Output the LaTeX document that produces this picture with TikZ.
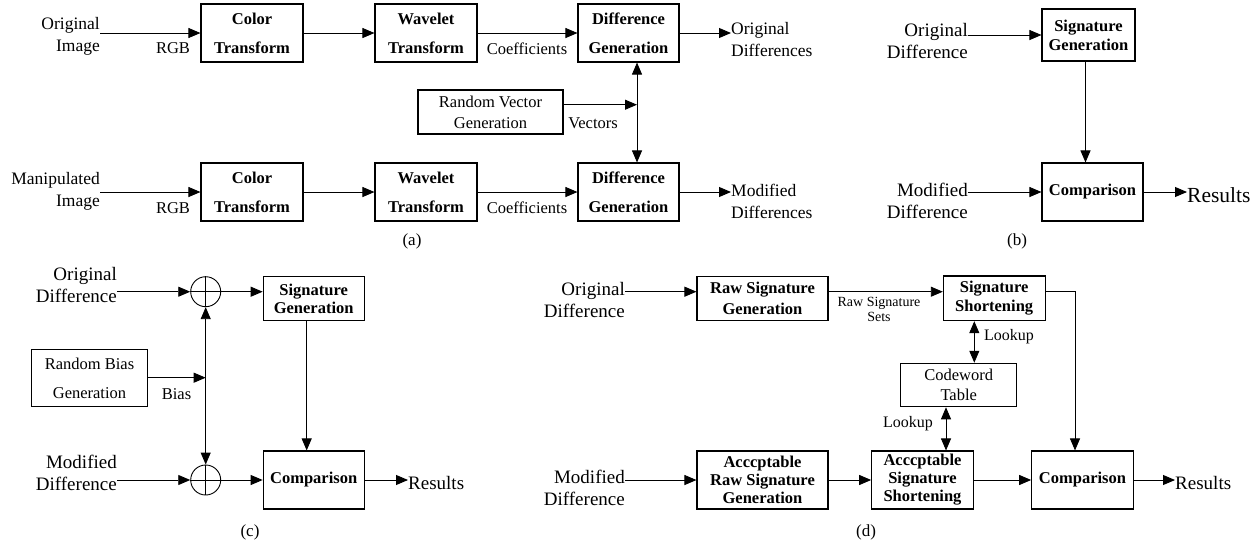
\documentclass[tikz,border=0pt]{standalone}
\usepackage{fontspec}
\setmainfont{Liberation Serif}
\usetikzlibrary{arrows.meta,calc}
\begin{document}
\begin{tikzpicture}[x=1pt,y=-1pt,
  mytip/.tip={Triangle[length=12pt,width=10pt]},
  arr/.style={line width=0.9pt,-mytip},
  arrb/.style={line width=0.9pt,mytip-mytip},
  wh/.style 2 args={minimum width=#1 pt,minimum height=#2 pt},
  boxb/.style={draw,line width=1.1pt,inner sep=0pt,align=center,font=\fontsize{16.5}{#1}\selectfont\bfseries},
  boxb/.default=20,
  boxr/.style={draw,line width=1.1pt,inner sep=0pt,align=center,font=\fontsize{16.5}{#1}\selectfont},
  boxr/.default=20,
  lblA/.style={inner sep=0pt,font=\fontsize{17.5}{22}\selectfont},
  lblB/.style={inner sep=0pt,font=\fontsize{19}{22}\selectfont},
  lblS/.style={inner sep=0pt,font=\fontsize{16.5}{20}\selectfont},
  lblL/.style={inner sep=0pt,font=\fontsize{16}{20}\selectfont},
  lblT/.style={inner sep=0pt,font=\fontsize{14}{15}\selectfont},
  lblR/.style={inner sep=0pt,font=\fontsize{21.5}{24}\selectfont},
  captxt/.style={inner sep=0pt,font=\fontsize{17}{20}\selectfont},
  sum/.style={draw,circle,line width=0.9pt,minimum size=30pt,inner sep=0pt}
]
\useasboundingbox[fill=white] (0,0) rectangle (1260,547);

% ---------------- (a) ----------------
\node[lblA,anchor=east,align=right] (oi) at (100,36) {Original\\Image};
\node[boxb=29,wh={102}{58}] (ct1) at (252,33) {Color\\Transform};
\node[boxb=29,wh={102}{58}] (wt1) at (426,33) {Wavelet\\Transform};
\node[boxb=29,wh={101}{58}] (dg1) at (628.5,33) {Difference\\Generation};
\node[lblS] (rgb1) at (173,48) {RGB};
\node[lblS] (cf1) at (527,49) {Coefficients};
\node[lblA,anchor=west,align=left] (od) at (731,40) {Original\\Differences};

\node[boxr=21,wh={145}{44}] (rv) at (490.5,112) {Random Vector\\Generation};
\node[lblS] (vec) at (593,123) {Vectors};
\coordinate (j1) at (637,104.7);

\node[lblA,anchor=east,align=right] (mi) at (100,191) {Manipulated\\Image};
\node[boxb=29,wh={102}{58}] (ct2) at (252,192) {Color\\Transform};
\node[boxb=29,wh={102}{58}] (wt2) at (426,192) {Wavelet\\Transform};
\node[boxb=29,wh={101}{58}] (dg2) at (628.5,192) {Difference\\Generation};
\node[lblS] (rgb2) at (173,208) {RGB};
\node[lblS] (cf2) at (527,208) {Coefficients};
\node[lblA,anchor=west,align=left] (md) at (731,201) {Modified\\Differences};
\node[captxt] (capa) at (412,241) {(a)};

\draw[arr] (oi.east |- ct1.west) -- (ct1.west);
\draw[arr] (ct1.east) -- (wt1.west);
\draw[arr] (wt1.east) -- (dg1.west);
\draw[arr] (dg1.east) -- (od.west |- dg1.east);
\draw[arr] (mi.east |- ct2.west) -- (ct2.west);
\draw[arr] (ct2.east) -- (wt2.west);
\draw[arr] (wt2.east) -- (dg2.west);
\draw[arr] (dg2.east) -- (md.west |- dg2.east);
\draw[arr] (rv.east |- j1) -- (j1);
\draw[arrb] (j1 |- dg1.south) -- (j1 |- dg2.north);

% ---------------- (b) ----------------
\node[lblB,anchor=east,align=right] (bo) at (968,41) {Original\\Difference};
\node[boxb=19,wh={93}{52}] (bsg) at (1088.5,35) {Signature\\Generation};
\node[boxb,wh={101}{58}] (bcmp) at (1092.5,192) {Comparison};
\node[lblB,anchor=east,align=right] (bm) at (968,201) {Modified\\Difference};
\node[lblR,anchor=west] (bres) at (1187,195) {Results};
\node[captxt] (capb) at (1017,241) {(b)};
\coordinate (bv) at ($(bsg.south)+(-3,0)$);

\draw[arr] (bo.east |- bsg.west) -- (bsg.west);
\draw[arr] (bm.east |- bcmp.west) -- (bcmp.west);
\draw[arr] (bv) -- (bv |- bcmp.north);
\draw[arr] (bcmp.east) -- (bres.west |- bcmp.east);

% ---------------- (c) ----------------
\node[lblB,anchor=east,align=right] (co) at (117,285) {Original\\Difference};
\node[sum] (o1) at (205.7,291.7) {};
\node[boxb=18,wh={101}{44}] (csg) at (313.7,298.7) {Signature\\Generation};
\node[boxb,wh={101}{58}] (ccmp) at (313.7,480) {Comparison};
\node[sum] (o2) at (205.7,480) {};
\node[lblB,anchor=east,align=right] (cm) at (117,473) {Modified\\Difference};
\node[boxr=29,wh={115.6}{57.7}] (rb) at (89.5,378) {Random Bias\\Generation};
\node[lblS] (bias) at (176.5,394) {Bias};
\node[lblB,anchor=west] (cres) at (408,483) {Results};
\node[captxt] (capc) at (250,532) {(c)};
\coordinate (j2) at (205.7,377.7);
\coordinate (cv) at ($(csg.south)+(-7,0)$);

\draw[line width=0.9pt] (o1.north) -- (o1.south) (o1.west) -- (o1.east);
\draw[line width=0.9pt] (o2.north) -- (o2.south) (o2.west) -- (o2.east);
\draw[arr] (co.east |- o1.west) -- (o1.west);
\draw[arr] (o1.east) -- (csg.west |- o1.east);
\draw[arr] (cv) -- (cv |- ccmp.north);
\draw[arr] (rb.east |- j2) -- (j2);
\draw[arrb] (o1.south) -- (o2.north);
\draw[arr] (cm.east |- o2.west) -- (o2.west);
\draw[arr] (o2.east) -- (ccmp.west);
\draw[arr] (ccmp.east) -- (cres.west |- ccmp.east);

% ---------------- (d) ----------------
\node[lblB,anchor=east,align=right] (do) at (625,300) {Original\\Difference};
\node[boxb=21,wh={131}{44}] (rsg) at (762.5,298.7) {Raw Signature\\Generation};
\node[boxb=18.7,wh={101.7}{44.7}] (ss) at (994.2,298.3) {Signature\\Shortening};
\node[lblT,align=center] (rss) at (879,309) {Raw Signature\\Sets};
\node[boxr=20,wh={116}{43.4}] (cw) at (958.7,385) {Codeword\\Table};
\node[lblL] (lk1) at (1009,336.7) {Lookup};
\node[lblL] (lk2) at (908,423.3) {Lookup};
\node[boxb=18,wh={131}{58}] (arsg) at (762.5,480) {Acccptable\\Raw Signature\\Generation};
\node[boxb=18,wh={101.6}{58}] (ass) at (922.5,480) {Acccptable\\Signature\\Shortening};
\node[boxb,wh={101.6}{58}] (dcmp) at (1082.5,480) {Comparison};
\node[lblB,anchor=west] (dres) at (1175,483) {Results};
\node[lblB,anchor=east,align=right] (dm) at (625,488) {Modified\\Difference};
\node[captxt] (capd) at (866,532) {(d)};
\coordinate (rsgin) at ($(rsg.west)+(0,-7)$);
\coordinate (rsgout) at ($(rsg.east)+(0,-7)$);
\coordinate (ssout) at ($(ss.east)+(0,-6.6)$);
\coordinate (dcin) at ($(dcmp.north)+(-7.5,0)$);
\coordinate (l1) at (974.3,0);
\coordinate (l2) at (946,0);

\draw[arr] (do.east |- rsgin) -- (rsgin);
\draw[arr] (rsgout) -- (ss.west |- rsgout);
\draw[arr] (ssout) -| (dcin);
\draw[arrb] (ss.south -| l1) -- (cw.north -| l1);
\draw[arrb] (cw.south -| l2) -- (ass.north -| l2);
\draw[arr] (dm.east |- arsg.west) -- (arsg.west);
\draw[arr] (arsg.east) -- (ass.west);
\draw[arr] (ass.east) -- (dcmp.west);
\draw[arr] (dcmp.east) -- (dres.west |- dcmp.east);
\end{tikzpicture}
\end{document}
